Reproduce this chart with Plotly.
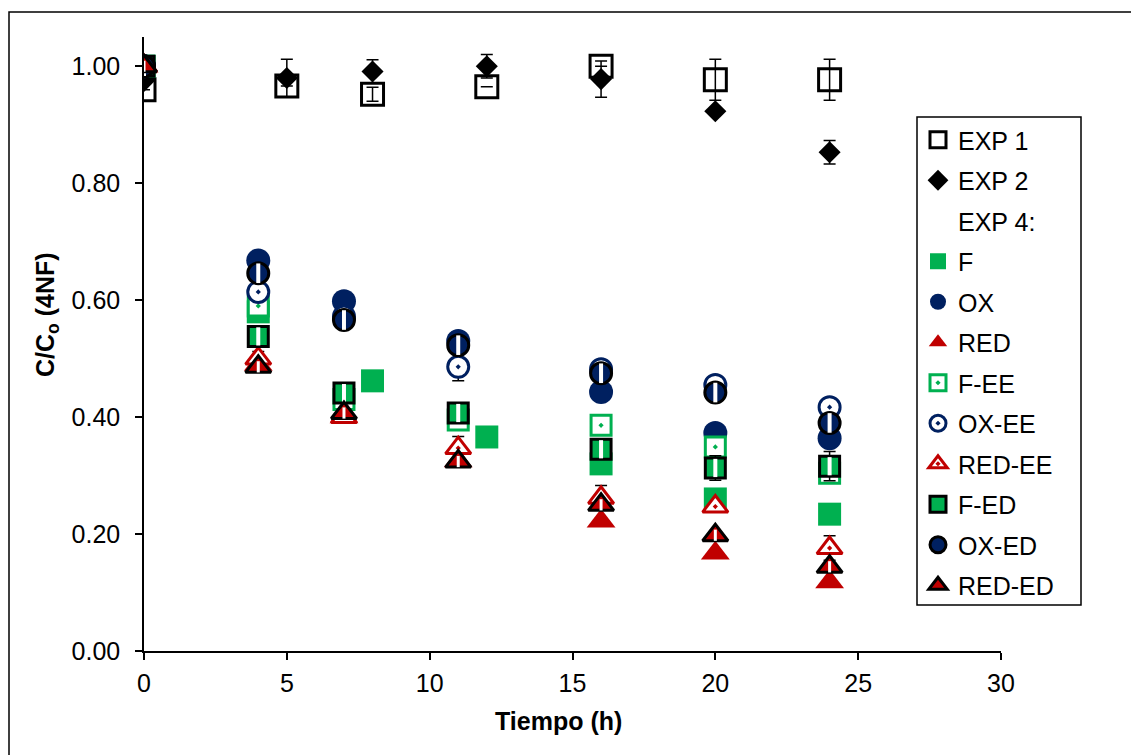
import plotly.graph_objects as go

# ---------------- data ----------------
t_exp = [0, 5, 8, 12, 16, 20, 24]          # EXP 1 / EXP 2 sampling times (h)
exp1 = [0.960, 0.966, 0.952, 0.965, 1.000, 0.977, 0.977]
exp1_err = [0, 0, 0.012, 0, 0, 0.035, 0.035]
exp2 = [0.975, 0.980, 0.991, 1.000, 0.978, 0.923, 0.853]
exp2_err = [0, 0.032, 0.020, 0.020, 0.031, 0, 0.020]

t_f = [0, 4, 8, 12, 16, 20, 24]            # EXP 4 F times
t4 = [0, 4, 7, 11, 16, 20, 24]             # EXP 4 other series times
F = [1.000, 0.580, 0.462, 0.366, 0.320, 0.260, 0.234]
OX = [1.000, 0.668, 0.598, 0.530, 0.443, 0.373, 0.364]
RED = [1.000, 0.490, 0.400, 0.325, 0.222, 0.167, 0.118]
F_EE = [1.000, 0.590, 0.430, 0.395, 0.386, 0.349, 0.304]
OX_EE = [1.000, 0.614, 0.572, 0.486, 0.482, 0.455, 0.417]
OX_EE_err = [0, 0, 0, 0.024, 0, 0, 0]
RED_EE = [1.000, 0.500, 0.400, 0.347, 0.262, 0.247, 0.176]
RED_EE_err = [0, 0.012, 0, 0.020, 0.021, 0, 0.021]
F_ED = [1.000, 0.538, 0.441, 0.407, 0.345, 0.313, 0.316]
F_ED_err = [0, 0, 0, 0, 0, 0.021, 0.025]
OX_ED = [1.000, 0.646, 0.566, 0.523, 0.475, 0.442, 0.390]
RED_ED = [1.000, 0.486, 0.407, 0.324, 0.250, 0.198, 0.144]

x_ticks = [0, 5, 10, 15, 20, 25, 30]
y_ticks = [0.0, 0.2, 0.4, 0.6, 0.8, 1.0]

# ---------------- style ----------------
GREEN = "#00B050"
NAVY = "#002060"
REDC = "#C00000"
FONT = "Liberation Sans, Arial, sans-serif"

fig = go.Figure()


def ebar(arr):
    return dict(type="data", array=arr, visible=True, color="black",
                thickness=1.5, width=6)


def add(x, y, name, symbol, color, line_color, line_w, size, err=None,
        show=True, group=None):
    kw = {}
    if err is not None:
        kw["error_y"] = ebar(err)
    fig.add_trace(go.Scatter(
        x=x, y=y, name=name, mode="markers", showlegend=show,
        legendgroup=group or name,
        marker=dict(symbol=symbol, color=color, size=size,
                    line=dict(color=line_color, width=line_w)),
        **kw))


add(t_exp, exp1, "EXP 1", "square-open", "black", "black", 3, 22, exp1_err)
add(t_exp, exp2, "EXP 2", "diamond", "black", "black", 0, 17, exp2_err)
# legend-only heading entry
fig.add_trace(go.Scatter(x=[None], y=[None], name="EXP 4:", mode="markers",
                         legendgroup="EXP 4:",
                         marker=dict(color="rgba(0,0,0,0)", size=1)))
add(t_f, F, "F", "square", GREEN, GREEN, 0, 23)
add(t4, OX, "OX", "circle", NAVY, NAVY, 0, 24)
add(t4, RED, "RED", "triangle-up", REDC, REDC, 0, 25)
add(t4, F_EE, "F-EE", "square-dot", "white", GREEN, 3, 20)
add(t4, OX_EE, "OX-EE", "circle-dot", "white", NAVY, 3, 21, OX_EE_err)
add(t4, RED_EE, "RED-EE", "triangle-up-dot", "white", REDC, 3, 22, RED_EE_err)
# ED series: coloured fill, black outline + white vertical stripe
add(t4, F_ED, "F-ED", "square", GREEN, "black", 3, 20, F_ED_err)
add(t4, F_ED, "F-ED s", "line-ns", "white", "white", 4, 13, show=False, group="F-ED")
add(t4, OX_ED, "OX-ED", "circle", NAVY, "black", 3, 21)
add(t4, OX_ED, "OX-ED s", "line-ns", "white", "white", 4, 14, show=False, group="OX-ED")
add(t4, RED_ED, "RED-ED", "triangle-up", REDC, "black", 3, 22)
add(t4, RED_ED, "RED-ED s", "line-ns", "white", "white", 3, 8, show=False, group="RED-ED")

# page pixel geometry (the page body adds an 8 px offset)
OFF = 8
W, H = 1139 - OFF, 755 - OFF
L, R, T, B = 144 - OFF, 1139 - 1001, 37 - OFF, 755 - 651
pw, ph = W - L - R, H - T - B


def px_x(p):
    return (p - OFF - L) / pw


def px_y(p):
    return (H - B - (p - OFF)) / ph


fig.update_layout(
    width=W, height=H,
    margin=dict(l=L, r=R, t=T, b=B),
    paper_bgcolor="white", plot_bgcolor="white",
    font=dict(family=FONT, size=25, color="black"),
    showlegend=True,
    legend=dict(x=px_x(918), y=px_y(117), xanchor="left", yanchor="top",
                bgcolor="rgba(0,0,0,0)", borderwidth=0,
                font=dict(family=FONT, size=25, color="black"),
                tracegroupgap=5, itemwidth=30),
    xaxis=dict(range=[0, 30], tickvals=x_ticks, ticks="outside", ticklen=7,
               tickwidth=1.5, tickcolor="black", showline=True,
               linecolor="black", linewidth=1.5, showgrid=False,
               zeroline=False, ticklabelstandoff=2,
               tickfont=dict(family=FONT, size=25, color="black")),
    yaxis=dict(range=[0, 1.05], tickvals=y_ticks, tickformat=".2f",
               ticks="outside", ticklen=7, tickwidth=1.5, tickcolor="black",
               showline=True, linecolor="black", linewidth=1.5,
               showgrid=False, zeroline=False, ticklabelstandoff=10,
               tickfont=dict(family=FONT, size=25, color="black")),
    annotations=[
        dict(text="<b>Tiempo (h)</b>", xref="paper", yref="paper",
             x=px_x(558), y=px_y(721), xanchor="center", yanchor="middle",
             showarrow=False, font=dict(family=FONT, size=25, color="black")),
        dict(text="<b>C/C<sub>o</sub> (4NF)</b>", xref="paper", yref="paper",
             x=px_x(47), y=px_y(315), xanchor="center", yanchor="middle",
             textangle=-90, showarrow=False,
             font=dict(family=FONT, size=25, color="black")),
    ],
    shapes=[
        # outer chart frame
        dict(type="rect", xref="paper", yref="paper",
             x0=px_x(9), x1=px_x(1150), y0=px_y(770), y1=px_y(12),
             line=dict(color="black", width=1.5), fillcolor="rgba(0,0,0,0)",
             layer="below"),
        # legend frame
        dict(type="rect", xref="paper", yref="paper",
             x0=px_x(917), x1=px_x(1081), y0=px_y(605), y1=px_y(117),
             line=dict(color="black", width=1.5), fillcolor="white",
             layer="below"),
    ],
)

fig.write_html("out.html")
